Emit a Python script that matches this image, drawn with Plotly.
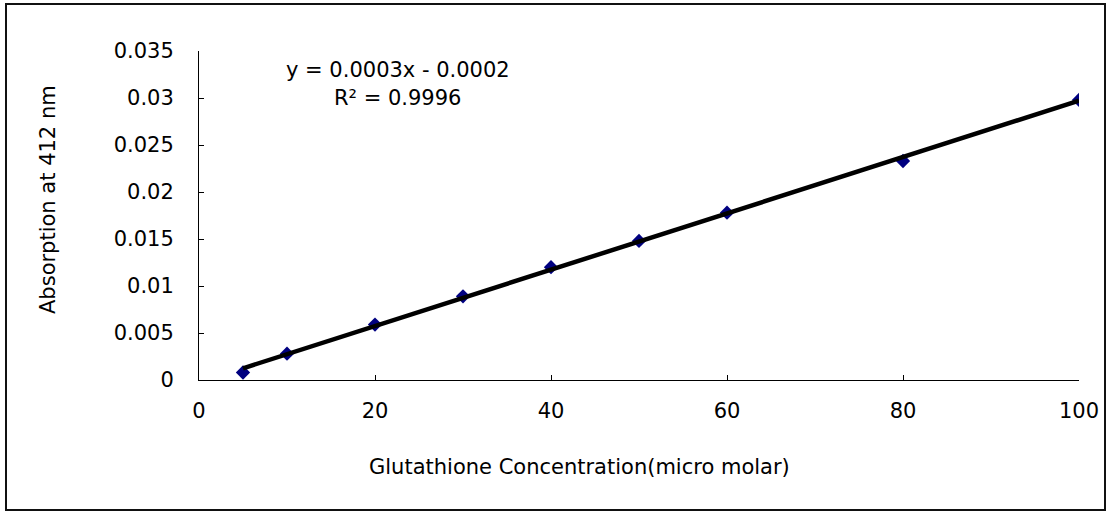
import numpy as np
import plotly.graph_objects as go

# Data
conc = [5, 10, 20, 30, 40, 50, 60, 80, 100]
absorb = [0.0008, 0.0028, 0.0059, 0.0089, 0.0120, 0.0148, 0.0178, 0.0233, 0.0298]

x_ticks = [0, 20, 40, 60, 80, 100]
x_ticktext = ["0", "20", "40", "60", "80", "100"]
y_ticks = [0, 0.005, 0.01, 0.015, 0.02, 0.025, 0.03, 0.035]
y_ticktext = ["0", "0.005", "0.01", "0.015", "0.02", "0.025", "0.03", "0.035"]

eq_text = "y = 0.0003x - 0.0002"
r2_text = "R² = 0.9996"
x_title = "Glutathione Concentration(micro molar)"
y_title = "Absorption at 412 nm"

# Linear trendline (least squares fit over the data)
slope, intercept = np.polyfit(conc, absorb, 1)
trend_x = [min(conc), max(conc)]
trend_y = [slope * v + intercept for v in trend_x]

FONT = "DejaVu Sans"
FS = 21

fig = go.Figure()
fig.add_trace(go.Scatter(
    x=conc, y=absorb, mode="markers",
    marker=dict(symbol="diamond", size=11, color="#000080"),
    showlegend=False, hoverinfo="x+y",
))
fig.add_trace(go.Scatter(
    x=trend_x, y=trend_y, mode="lines",
    line=dict(color="black", width=4.5),
    showlegend=False, hoverinfo="skip",
))

W, H = 1111, 514
L, R, T, B = 199, 32, 51, 134
pw, ph = W - L - R, H - T - B

def px(xp):
    return (xp - L) / pw

def py(yp):
    return (H - B - yp) / ph

fig.update_layout(
    width=W, height=H,
    margin=dict(l=L, r=R, t=T, b=B, autoexpand=False),
    paper_bgcolor="white", plot_bgcolor="white",
    font=dict(family=FONT, size=FS, color="black"),
    xaxis=dict(
        range=[0, 100], tickvals=x_ticks, ticktext=x_ticktext,
        showgrid=False, zeroline=False, showline=True, linecolor="#000000", linewidth=1,
        ticks="inside", ticklen=5, tickcolor="#000000", ticklabelstandoff=12,
        tickfont=dict(family=FONT, size=FS, color="black"), fixedrange=True,
    ),
    yaxis=dict(
        range=[0, 0.035], tickvals=y_ticks, ticktext=y_ticktext,
        showgrid=False, zeroline=False, showline=True, linecolor="#000000", linewidth=1,
        ticks="inside", ticklen=5, tickcolor="#000000", ticklabelstandoff=20,
        tickfont=dict(family=FONT, size=FS, color="black"), fixedrange=True,
    ),
    shapes=[dict(
        type="rect", xref="paper", yref="paper",
        x0=px(6), x1=px(1105), y0=py(510), y1=py(4),
        line=dict(color="#111111", width=2), fillcolor="rgba(0,0,0,0)", layer="below",
    )],
    annotations=[
        dict(text=x_title, xref="paper", yref="paper", x=px(579), y=py(467),
             showarrow=False, xanchor="center", yanchor="middle",
             font=dict(family=FONT, size=FS, color="black")),
        dict(text=y_title, xref="paper", yref="paper", x=px(48), y=py(200),
             showarrow=False, xanchor="center", yanchor="middle", textangle=-90,
             font=dict(family=FONT, size=FS, color="black")),
        dict(text=eq_text, xref="x", yref="y", x=22.6, y=0.03298,
             showarrow=False, xanchor="center", yanchor="middle",
             font=dict(family=FONT, size=FS, color="black")),
        dict(text=r2_text, xref="x", yref="y", x=22.6, y=0.0300,
             showarrow=False, xanchor="center", yanchor="middle",
             font=dict(family=FONT, size=FS, color="black")),
    ],
)

fig.write_html(
    "out.html",
    config={"displayModeBar": False},
    post_script="document.body.style.margin='0px';document.body.style.overflow='hidden';",
)
